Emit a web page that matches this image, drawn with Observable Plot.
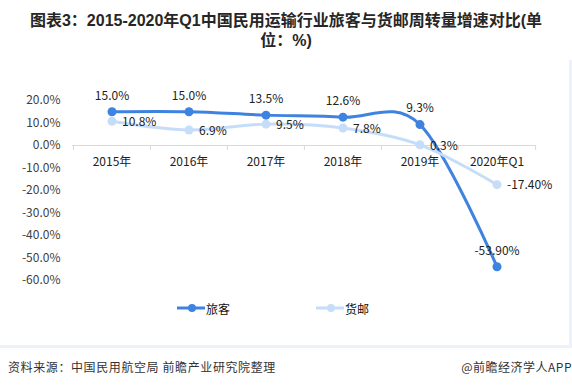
<!DOCTYPE html>
<html><head><meta charset="utf-8">
<script src="https://cdn.jsdelivr.net/npm/d3@7"></script>
<script src="https://cdn.jsdelivr.net/npm/@observablehq/plot@0.6"></script>
<style>
body{margin:0;background:#fff;}
#wrap{position:relative;width:572px;height:388px;overflow:hidden;font-family:"Noto Sans CJK SC","Noto Sans",sans-serif;}
#title{position:absolute;top:11px;left:0;width:572px;text-align:center;font-family:"Liberation Sans","Noto Sans CJK SC",sans-serif;font-weight:bold;font-size:16px;line-height:20px;color:#262626;}
#chart{position:absolute;top:50px;left:0;}
#legend{position:absolute;top:300px;left:0;width:572px;height:16px;font-size:12px;color:#111;}
.lg{position:absolute;top:0;display:flex;align-items:center;height:16px;}
#sep{position:absolute;top:345px;left:0;width:572px;height:3px;background:#edf2fa;}
#rb{position:absolute;top:60px;left:569px;width:3px;height:288px;background:#edf2fa;}
#src{position:absolute;top:358px;left:8px;font-size:12px;letter-spacing:0.6px;color:#333;}
#app{position:absolute;top:358px;right:0;font-size:12px;letter-spacing:0.5px;color:#333;}
</style></head>
<body><div id="wrap">
<div id="title">图表3：2015-2020年Q1中国民用运输行业旅客与货邮周转量增速对比(单<br>位：%)</div>
<div id="chart"></div>
<div id="rb"></div>
<div id="sep"></div>
<div id="legend"></div>
<div id="src">资料来源：中国民用航空局 前瞻产业研究院整理</div>
<div id="app">@前瞻经济学人APP</div>
</div>
<script>
const categories = ["2015年","2016年","2017年","2018年","2019年","2020年Q1"];
const passenger = [15.0, 15.0, 13.5, 12.6, 9.3, -53.9];
const passengerLabels = ["15.0%","15.0%","13.5%","12.6%","9.3%","-53.90%"];
const cargo = [10.8, 6.9, 9.5, 7.8, 0.3, -17.4];
const cargoLabels = ["10.8%","6.9%","9.5%","7.8%","0.3%","-17.40%"];
const yTicks = [20,10,0,-10,-20,-30,-40,-50,-60];
const seriesNames = ["旅客","货邮"];
const colors = ["#3f83e0","#c6ddf9"];

const pData = categories.map((c,i)=>({cat:c, v:passenger[i], label:passengerLabels[i]}));
const cData = categories.map((c,i)=>({cat:c, v:cargo[i], label:cargoLabels[i]}));

const W = 572, mL = 72, mR = 37;
const step = (W - mL - mR) / categories.length;

const chart = Plot.plot({
  width: W, height: 250,
  marginTop: 50, marginBottom: 20, marginLeft: mL, marginRight: mR,
  style: {fontFamily: '"Noto Sans CJK SC","Noto Sans",sans-serif', fontSize: "12px", color: "#404040", background: "transparent"},
  x: {type: "band", domain: categories, padding: 0, axis: null},
  y: {domain: [-60, 20], ticks: yTicks, tickFormat: d => d.toFixed(1) + "%", tickSize: 0, tickPadding: 12, label: null},
  marks: [
    Plot.axisY({ticks: yTicks, tickFormat: d => d.toFixed(1) + "%", tickSize: 0, tickPadding: 12, label: null, fontSize: 12}),
    Plot.ruleY([0], {stroke: "#d9d9d9", strokeWidth: 1}),
    Plot.ruleX(categories, {x: d => d, y1: 0, y2: 0, insetBottom: -5, dx: -step/2, stroke: "#d9d9d9"}),
    Plot.ruleX([categories[categories.length-1]], {x: d => d, y1: 0, y2: 0, insetBottom: -5, dx: step/2, stroke: "#d9d9d9"}),
    Plot.text(categories, {x: d => d, y: 0, dy: 17, text: d => d, fill: "#222", fontSize: 12}),
    Plot.line(pData, {x: "cat", y: "v", stroke: colors[0], strokeWidth: 3, curve: "cardinal"}),
    Plot.dot(pData, {x: "cat", y: "v", fill: colors[0], r: 4.5}),
    Plot.line(cData, {x: "cat", y: "v", stroke: colors[1], strokeWidth: 3, curve: "cardinal"}),
    Plot.dot(cData, {x: "cat", y: "v", fill: colors[1], r: 4.5}),
    Plot.text(pData, {x: "cat", y: "v", text: "label", dy: -16, fill: "#222", fontSize: 12}),
    Plot.text(cData, {x: "cat", y: "v", text: "label", dx: 10, dy: 1, textAnchor: "start", fill: "#222", fontSize: 12})
  ]
});
document.getElementById("chart").appendChild(chart);

// legend
const lg = document.getElementById("legend");
const lx = [177, 316];
seriesNames.forEach((n,i)=>{
  const d = document.createElement("div");
  d.className = "lg";
  d.style.left = lx[i] + "px";
  d.innerHTML = `<svg width="28" height="16"><line x1="0" y1="8" x2="28" y2="8" stroke="${colors[i]}" stroke-width="3"/><circle cx="15" cy="8" r="4" fill="${colors[i]}"/></svg><span style="margin-left:1px">${n}</span>`;
  lg.appendChild(d);
});
</script>
</body></html>
